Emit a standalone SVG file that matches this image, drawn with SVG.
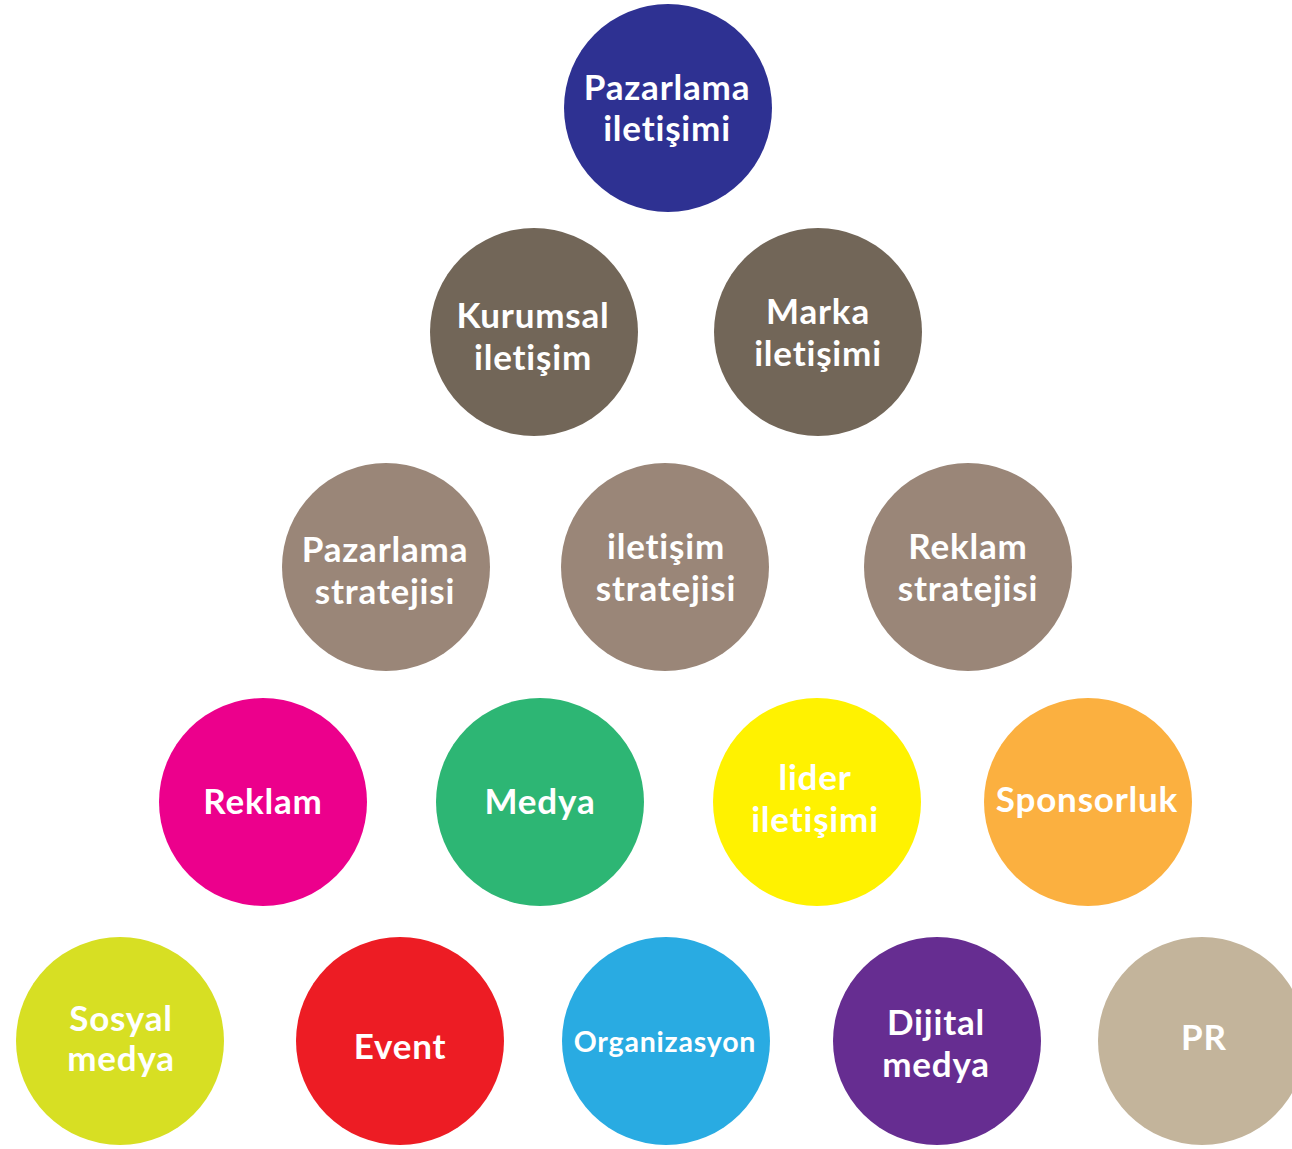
<svg xmlns="http://www.w3.org/2000/svg" width="1292" height="1149" viewBox="0 0 1292 1149">
<style>
text{font-family:Lato,"Open Sans","Liberation Sans",sans-serif;font-weight:700;fill:#fff;text-anchor:middle;font-size:35px;letter-spacing:0.8px}
.sm{font-size:28.5px}
</style>
<rect width="1292" height="1149" fill="#fff"/>
<g id="connectors"/>
<g id="n-pazarlama-iletisimi"><circle cx="668" cy="108" r="104" fill="#2E3192"/><text x="667" y="100">Pazarlama</text><text x="667" y="141">iletişimi</text></g>
<g id="n-kurumsal"><circle cx="534" cy="332" r="104" fill="#726658"/><text x="533" y="328">Kurumsal</text><text x="533" y="370">iletişim</text></g>
<g id="n-marka"><circle cx="818" cy="332" r="104" fill="#726658"/><text x="818" y="324">Marka</text><text x="818" y="366">iletişimi</text></g>
<g id="n-pazarlama-strat"><circle cx="386" cy="567" r="104" fill="#9A8678"/><text x="385" y="562">Pazarlama</text><text x="385" y="604">stratejisi</text></g>
<g id="n-iletisim-strat"><circle cx="665" cy="567" r="104" fill="#9A8678"/><text x="666" y="559">iletişim</text><text x="666" y="601">stratejisi</text></g>
<g id="n-reklam-strat"><circle cx="968" cy="567" r="104" fill="#9A8678"/><text x="968" y="559">Reklam</text><text x="968" y="601">stratejisi</text></g>
<g id="n-reklam"><circle cx="263" cy="802" r="104" fill="#EC008C"/><text x="263" y="814">Reklam</text></g>
<g id="n-medya"><circle cx="540" cy="802" r="104" fill="#2DB674"/><text x="540" y="814">Medya</text></g>
<g id="n-lider"><circle cx="817" cy="802" r="104" fill="#FFF200"/><text x="815" y="790">lider</text><text x="815" y="832">iletişimi</text></g>
<g id="n-sponsorluk"><circle cx="1088" cy="802" r="104" fill="#FBB040"/><text x="1087" y="812">Sponsorluk</text></g>
<g id="n-sosyal"><circle cx="120" cy="1041" r="104" fill="#D7DF23"/><text x="121" y="1031">Sosyal</text><text x="121" y="1071">medya</text></g>
<g id="n-event"><circle cx="400" cy="1041" r="104" fill="#ED1C24"/><text x="400" y="1059">Event</text></g>
<g id="n-organizasyon"><circle cx="666" cy="1041" r="104" fill="#29ABE2"/><text class="sm" x="665" y="1052">Organizasyon</text></g>
<g id="n-dijital"><circle cx="937" cy="1041" r="104" fill="#662D91"/><text x="936" y="1035">Dijital</text><text x="936" y="1077">medya</text></g>
<g id="n-pr"><circle cx="1202" cy="1041" r="104" fill="#C3B49B"/><text x="1204" y="1050">PR</text></g>
</svg>
